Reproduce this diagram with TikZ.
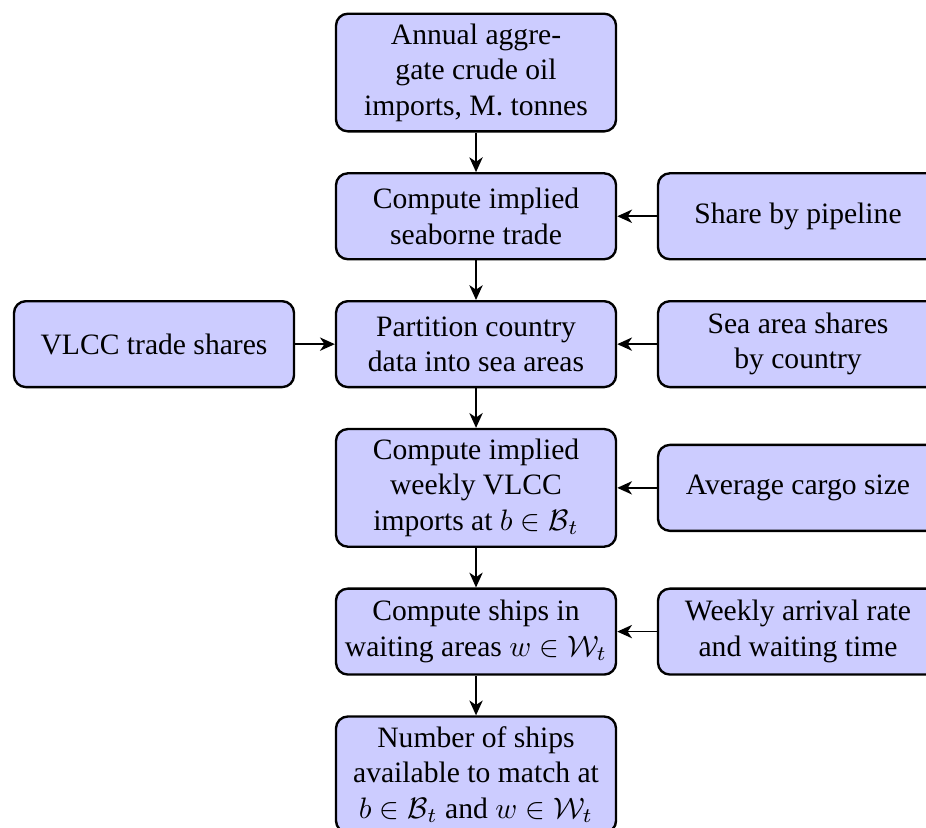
\documentclass[tikz,border=0pt]{standalone}
\usepackage{fontspec}
\setmainfont{Liberation Serif}
\usetikzlibrary{positioning,arrows.meta}
\tikzset{
  blk/.style={draw, thick, rounded corners=4pt, fill=blue!20,
    minimum width=94.6pt, inner xsep=2pt, minimum height=1.02cm, align=center, font=\normalsize},
  arr/.style={semithick, -{Stealth[length=5pt,width=4.5pt,inset=1.5pt]}}
}
\begin{document}
\begin{tikzpicture}[node distance=0.47cm]
\useasboundingbox (-160.8pt,24.5pt) rectangle (152.0pt,-254.9pt);
\node[blk] (a) at (0,0) {Annual aggre-\\gate crude oil\\imports, M. tonnes};
\node[blk, below=of a] (b) {Compute implied\\seaborne trade};
\node[blk, below=of b] (c) {Partition country\\data into sea areas};
\node[blk, below=of c] (d) {Compute implied\\weekly VLCC\\imports at $b\in\mathcal{B}_t$};
\node[blk, below=of d] (e) {Compute ships in\\waiting areas $w\in\mathcal{W}_t$};
\node[blk, below=of e] (f) {Number of ships\\available to match at\\$b\in\mathcal{B}_t$ and $w\in\mathcal{W}_t$};
\node[blk, right=of b] (pb) {Share by pipeline};
\node[blk, right=of c] (pc) {Sea area shares\\by country};
\node[blk, left=of c] (lc) {VLCC trade shares};
\node[blk, right=of d] (pd) {Average cargo size};
\node[blk, right=of e] (pe) {Weekly arrival rate\\and waiting time};
\draw[arr] (a) -- (b);
\draw[arr] (b) -- (c);
\draw[arr] (c) -- (d);
\draw[arr] (d) -- (e);
\draw[arr] (e) -- (f);
\draw[arr] (pb) -- (b);
\draw[arr] (pc) -- (c);
\draw[arr] (lc) -- (c);
\draw[arr] (pd) -- (d);
\draw[arr] (pe) -- (e);
\end{tikzpicture}
\end{document}
